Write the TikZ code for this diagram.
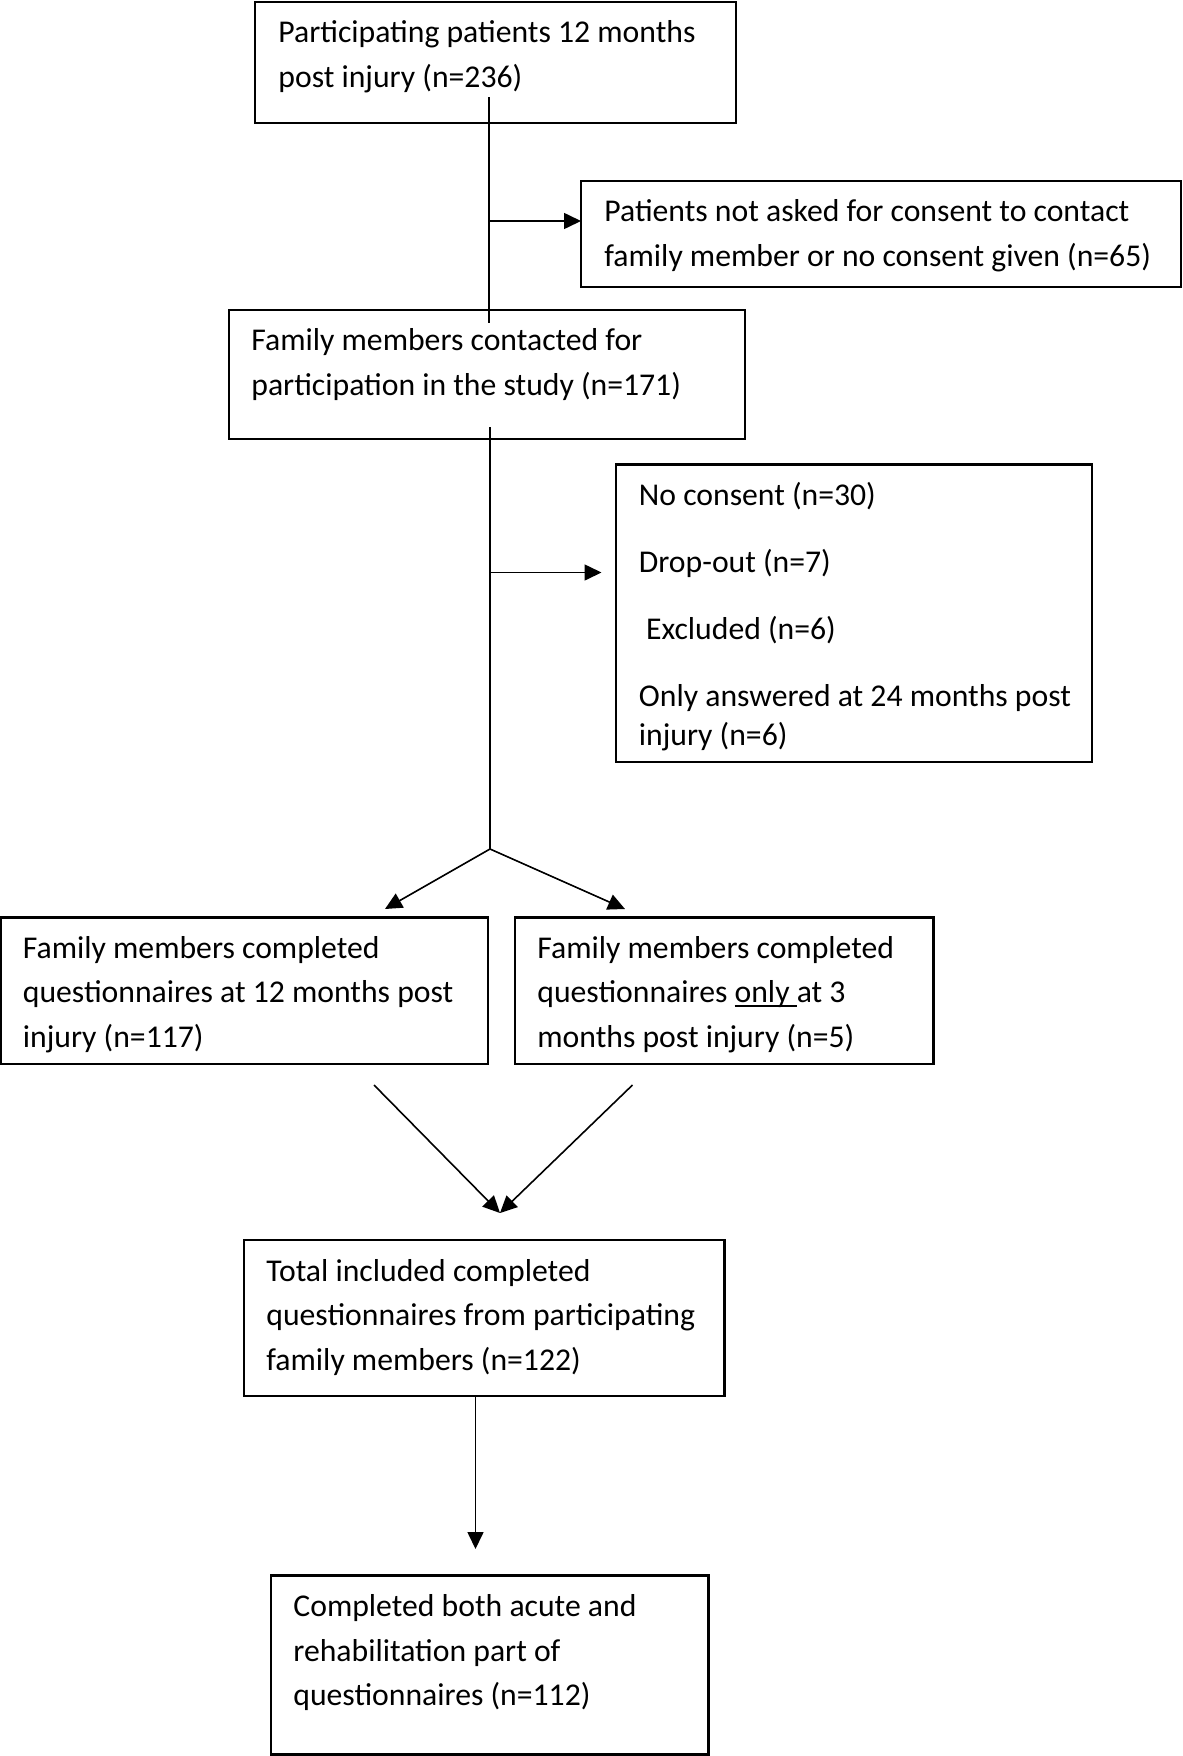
\documentclass[tikz,border=0pt]{standalone}
\usepackage{fontspec}
\setmainfont{Carlito}
\usetikzlibrary{arrows.meta, calc}

\newcommand{\boxlines}[1]{\begin{tabular}[t]{@{}l@{}}#1\end{tabular}}
\newcommand{\ulword}[1]{{\setbox0\hbox{#1}\rlap{\rule[-2pt]{\wd0}{0.7pt}}\box0}}

\tikzset{
  box/.style={draw, line width=1.1pt, anchor=north west, inner sep=0pt, outer sep=0pt},
  txt/.style={anchor=base west, inner sep=0pt, font=\fontsize{15.85}{22.25}\selectfont},
  link/.style={line width=0.8pt},
  arr/.style={link, -{Triangle[length=8.5pt, width=8pt]}}
}

\begin{document}
\begin{tikzpicture}[x=0.5pt, y=-0.5pt]
            \useasboundingbox (0,0) rectangle (1183,1756);

            % Draw the boxes
            \node[box, minimum width=240.5pt, minimum height=60.5pt] (pat) at (255,2) {};
            \node[box, minimum width=300pt, minimum height=53pt] (notask) at (581,181) {};
            \node[box, minimum width=258pt, minimum height=64.5pt] (fam) at (229,310) {};
            \node[box, minimum width=238pt, minimum height=148.75pt] (drop) at (616,464.5) {};
            \node[box, minimum width=243.5pt, minimum height=73.25pt] (twelve) at (1,917.5) {};
            \node[box, minimum width=209.25pt, minimum height=73.25pt] (three) at (515,917.5) {};
            \node[box, minimum width=240.25pt, minimum height=78pt] (total) at (244,1240) {};
            \node[box, minimum width=218.75pt, minimum height=89.5pt] (both) at (271,1575.5) {};

            % Write the texts
            \node[txt] (pattext) at ($(pat.north west)+(23,40.5)$)
                {\boxlines{Participating patients 12 months\\ post injury (n=236)}};
            \node[txt] (notasktext) at ($(notask.north west)+(23,40.5)$)
                {\boxlines{Patients not asked for consent to contact\\ family member or no consent given (n=65)}};
            \node[txt] (famtext) at ($(fam.north west)+(22,40.5)$)
                {\boxlines{Family members contacted for\\ participation in the study (n=171)}};
            \node[txt] (droptext) at ($(drop.north west)+(22.5,40.5)$)
                {\boxlines{No consent (n=30)\\[11.25pt] Drop-out (n=7)\\[11.25pt] \ Excluded (n=6)\\[11.25pt] Only answered at 24 months post\\[-2.75pt] injury (n=6)}};
            \node[txt] (twelvetext) at ($(twelve.north west)+(21.5,40.5)$)
                {\boxlines{Family members completed\\ questionnaires at 12 months post\\ injury (n=117)}};
            \node[txt] (threetext) at ($(three.north west)+(22,40.5)$)
                {\boxlines{Family members completed\\ questionnaires \ulword{only\ }at 3\\ months post injury (n=5)}};
            \node[txt] (totaltext) at ($(total.north west)+(22,41)$)
                {\boxlines{Total included completed\\ questionnaires from participating\\ family members (n=122)}};
            \node[txt] (bothtext) at ($(both.north west)+(22,41)$)
                {\boxlines{Completed both acute and\\ rehabilitation part of\\ questionnaires (n=112)}};

            % Draw the first split
            \coordinate (a1) at (489,97);
            \coordinate (a2) at (489,323);
            \coordinate (a3) at (489,221);
            \draw[link] (a1) -- (a2);
            \draw[arr] (a3) -- (a3 -| notask.west);

            % Draw the second split
            \coordinate (b1) at (490,427);
            \coordinate (split) at (490,849);
            \coordinate (b3) at (490,572.5);
            \coordinate (b4) at (601.5,572.5);
            \draw[link] (b1) -- (split);
            \draw[arr] (b3) -- (b4);

            \coordinate (c1) at (385,909);
            \coordinate (c2) at (625,909);
            \draw[arr] (split) -- (c1);
            \draw[arr] (split) -- (c2);

            % Draw the merge
            \coordinate (d1) at (374,1085);
            \coordinate (d2) at (632.5,1085);
            \coordinate (meet) at (500,1213);
            \draw[arr] (d1) -- (meet);
            \draw[arr] (d2) -- (meet);

            \coordinate (e1) at (475.5,1549);
            \draw[arr] (total.south -| e1) -- (e1);

        \end{tikzpicture}
\end{document}
